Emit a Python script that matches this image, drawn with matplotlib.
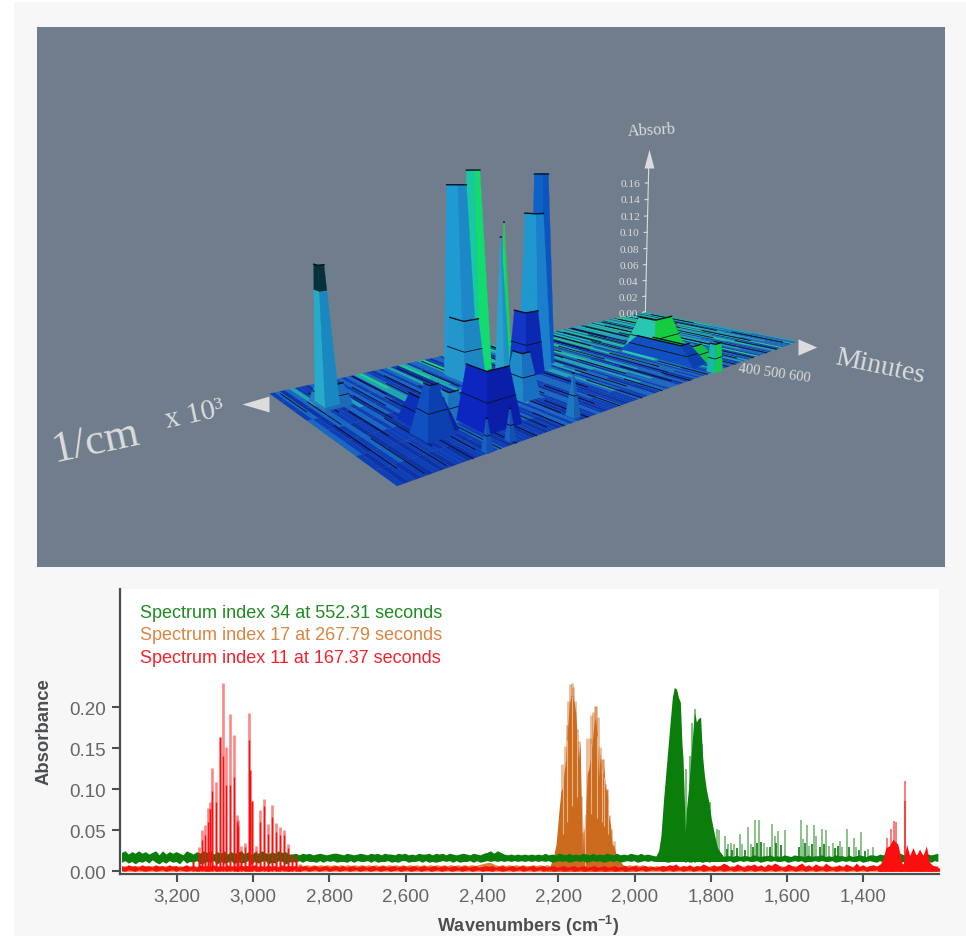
#!/usr/bin/env python3
"""Evolved-gas FTIR figure: 3D absorbance surface above three overlaid spectra."""

import matplotlib
matplotlib.use("Agg")
import matplotlib.pyplot as plt
import numpy as np
from matplotlib.colors import to_rgba
from mpl_toolkits.mplot3d import proj3d
from mpl_toolkits.mplot3d.art3d import Poly3DCollection

W, H = 966, 937
plt.rcParams.update({
    "font.family": "Liberation Sans",
    "mathtext.fontset": "custom",
    "mathtext.rm": "Liberation Sans",
    "mathtext.bf": "Liberation Sans:bold",
    "mathtext.default": "bf",
})

# ---- 3D surface ----
# wavenumber (x 10^3), minutes, absorbance, half widths, side face colours
peak_wave = [3.28, 3.27, 2.63, 2.75, 2.74, 2.59, 2.56, 2.375, 2.45, 2.52, 2.72,
             2.96, 3.15, 3.12, 3.04, 3.10, 3.00, 2.72, 1.87, 1.91, 1.82, 1.93]
peak_time = [153, 158, 159, 195, 205, 239, 229, 242, 267, 285, 419,
             496, 471, 419, 432, 612, 601, 593, 384, 432, 440, 617]
peak_height = [.103, .016, .171, .159, .050, .116, .128, .168, .135, .054, .035,
               .040, .034, .020, .021, .021, .021, .031, .034, .016, .012, .025]
peak_half_wave = [.026, .05, .03, .035, .05, .015, .012, .03, .035, .05, .04,
                  .07, .05, .05, .04, .012, .012, .014, .12, .05, .05, .03]
peak_half_time = [30, 48, 40, 46, 45, 20, 16, 30, 42, 36, 38,
                  55, 35, 70, 26, 9, 9, 14, 60, 130, 120, 12]
peak_top_scale = [.4, .6, .45, .55, .7, .05, .05, .55, .55, .65, .45,
                  .65, .3, .55, .45, .08, .08, .1, .5, .6, .6, .7]
peak_left = ['#26acc8', '#2a7cc0', '#18c8a0', '#1f9ad2', '#2596cc', '#2aa0d0',
             '#14e060', '#0d62c8', '#1f98d0', '#1236c8', '#1e8ac8', '#0e26c0',
             '#1050c0', '#0c30b8', '#2488c4', '#1a60c0', '#1a60c0', '#1c78c0',
             '#28c8b0', '#1050c0', '#14c858', '#18b8a8']
peak_right = ['#1a88c0', '#1f6ab8', '#12dc70', '#1c88c8', '#1f86c4', '#2090c8',
              '#12d858', '#0c54c0', '#1a80cc', '#0c28b0', '#1a70c0', '#0a1ea8',
              '#0c40b0', '#0a24a0', '#1c70bc', '#1450b0', '#1450b0', '#1a60b0',
              '#14cc40', '#0c40b0', '#12c048', '#14c850']
peak_dark_from = [.82, 1, 1, 1, 1, 1, 1, 1, 1, 1, 1, 1, 1, 1, 1, 1, 1, 1, 1, 1, 1, 1]

floor_palette = ['#0a1d6e', '#0c33a8', '#0d40b8', '#1668c4', '#1ba8b4', '#1ccf8c', '#22d870']
floor_rows = [
    "231342213241323231453213234215423345213325412235421345215432541355325420354253514535204452354525435254352564526354525354",
    "231342213241323231453213234215423345213325412235421345315432541355325420354253514535204452354525435254352564526354525354",
    "231332213241323231443213234214423345213325412234421344315432541354325420354243514534204442354525435254342554526354424354",
    "321332213231323221443213224214323335213324412234321344314432441354325320353243414534203442344525425254342554426354424354",
    "321231213231213221432212214213322334212324312233321244314332441344214320343233414433203432344424425244342454426344424344",
    "321231212221212221322212213213322324212323312233321234313332341344214320343233323433202432343424325244332454325344324344",
    "212231212221212212322112213213322323212223312232212234323312342334213320333243323432202332243423325234332354325334324334",
    "212121212122112212321122212212212323211223212223212223223312332333213221323233223423203332243423326233332344226333325334",
]
# short black contour dashes on the floor: wavenumber, from minute, to minute
dash_wave = [3.37, 3.35, 3.33, 3.31, 3.29, 3.26, 3.24, 3.22, 3.20, 3.18, 3.16, 3.14, 3.12, 3.10,
             3.08, 3.06, 3.04, 3.02, 3.00, 2.98, 2.96, 2.94, 2.92, 2.89, 2.87, 2.85, 2.83, 2.80,
             2.78, 2.76, 2.73, 2.71, 2.69, 2.66, 2.64, 2.61, 2.58, 2.56, 2.53, 2.50, 2.47, 2.44,
             2.41, 2.38, 2.35, 2.32, 2.29, 2.26, 2.23, 2.20, 2.17, 2.14, 2.11, 2.08, 2.05, 2.02,
             1.99, 1.96, 1.93, 1.90, 1.87, 1.84, 1.81, 1.78, 1.75, 1.72, 1.69, 1.66, 1.63, 1.60,
             1.57, 1.54, 1.51, 1.48, 1.45, 1.42, 1.39, 1.36, 1.33, 1.30, 1.27, 1.24]
dash_start = [20, 300, 120, 410, 60, 240, 480, 30, 330, 150, 500, 90, 380, 210, 10, 450, 280, 120,
              530, 60, 350, 190, 470, 20, 300, 440, 90, 520, 240, 10, 380, 120, 480, 60, 260, 10,
              400, 150, 520, 30, 300, 100, 440, 10, 360, 200, 500, 60, 290, 10, 420, 150, 530, 40,
              310, 10, 460, 180, 30, 370, 110, 10, 270, 480, 20, 160, 400, 60, 520, 10, 300, 130,
              440, 20, 230, 480, 60, 330, 10, 180, 410, 50]
dash_end = [180, 560, 300, 610, 230, 420, 610, 200, 520, 340, 620, 260, 590, 370, 190, 620, 450, 310,
            620, 250, 530, 380, 620, 210, 430, 600, 260, 620, 410, 170, 560, 280, 620, 230, 440, 210,
            570, 350, 620, 200, 480, 260, 620, 190, 540, 380, 620, 250, 470, 200, 590, 340, 620, 240,
            490, 210, 620, 360, 200, 560, 290, 170, 460, 620, 210, 350, 590, 240, 620, 200, 480, 320,
            620, 190, 410, 620, 250, 510, 210, 360, 590, 240]
absorb_ticks = [0.00, 0.02, 0.04, 0.06, 0.08, 0.10, 0.12, 0.14, 0.16]

# ---- spectrum 34, green: band edges as digits, thousandths above a base ----
green_band_top = ("79586968579495868649758697958695867958486975869785"
                  "564656456545665465456546564655465645465564656465456546546"
                  "79697" "5454545454"
                  "5464546546454654645465464546546454"
                  "3243233423243324323423324233243233423243243324233423243324234324"
                  "43546453645354635456")
green_band_low = ("24130324152031423051324013240312403124031340214302"
                  "324243324243423324243342423342324423342423234342423342423"
                  "43434" "3434343434"
                  "3434234342343423434234342343423434"
                  "3433234343343423343433423434334234343342343423343433423434334234"
                  "32423243234232423243")
green_wave = [1946, 1937, 1931, 1924, 1915, 1906, 1901, 1896, 1890, 1885, 1880, 1876, 1873, 1869,
              1867, 1864, 1858, 1854, 1848, 1843, 1838, 1833, 1827, 1822, 1817, 1812, 1805, 1799,
              1792, 1783, 1775, 1768]
green_abs = [.017, .025, .043, .088, .137, .186, .212, .224, .222, .212, .206, .157, .137, .080,
             .048, .076, .104, .129, .165, .194, .182, .186, .188, .141, .117, .100, .084, .064,
             .048, .029, .023, .019]
green_pale_wave = [1866, 1856, 1849, 1842, 1822, 1803]
green_pale_abs = [.125, .141, .181, .198, .155, .085]
green_stick_wave = [1783, 1779, 1763, 1755, 1748, 1740, 1724, 1718, 1704, 1696, 1685, 1673, 1661, 1652,
                    1640, 1633, 1623, 1605, 1564, 1558, 1548, 1542, 1529, 1524, 1509, 1497, 1490, 1481,
                    1462, 1455, 1443, 1424, 1419, 1406, 1389, 1376]
green_stick_abs = [.052, .050, .043, .033, .035, .033, .046, .033, .054, .033, .062, .062, .035, .029,
                   .058, .043, .049, .050, .062, .039, .057, .031, .056, .043, .052, .050, .031, .035,
                   .037, .029, .051, .041, .029, .048, .027, .029]
green_low_wave = [1757, 1744, 1731, 1711, 1690, 1680, 1668, 1645, 1628, 1615, 1570, 1553, 1535, 1515,
                  1503, 1475, 1468, 1437, 1412, 1397]
green_low_abs = [.027, .026, .028, .026, .030, .034, .036, .030, .034, .032, .030, .034, .033, .030,
                 .033, .028, .031, .030, .026, .025]

# ---- spectrum 17, orange ----
orange_wave = [2231, 2222, 2213, 2206, 2203, 2197, 2193, 2189, 2184, 2180, 2175, 2171, 2167, 2162,
               2158, 2154, 2150, 2147, 2143, 2139, 2137, 2134, 2131, 2127, 2124, 2120, 2116, 2111,
               2107, 2103, 2098, 2094, 2090, 2085, 2081, 2076, 2072, 2068, 2063, 2059, 2054, 2050,
               2046, 2038, 2029, 2016, 2003]
orange_abs = [.002, .006, .017, .033, .048, .080, .098, .102, .125, .137, .178, .204, .214, .214,
              .204, .192, .157, .137, .157, .072, .019, .064, .015, .088, .119, .125, .137, .157,
              .178, .188, .165, .113, .145, .104, .129, .100, .100, .068, .056, .033, .031, .023,
              .019, .012, .007, .003, .000]
orange_pale_wave = [2189, 2182, 2178, 2174, 2169, 2165, 2161, 2156, 2150, 2145, 2140, 2134, 2130, 2124,
                    2118, 2113, 2108, 2104, 2100, 2095, 2090, 2086, 2082, 2077, 2073, 2066, 2061, 2055]
orange_pale_abs = [.131, .153, .178, .208, .228, .230, .224, .208, .174, .159, .092, .048, .052, .163,
                   .163, .190, .194, .202, .202, .188, .151, .137, .137, .106, .100, .068, .052, .037]
orange_slit_wave = [2187, 2177, 2164, 2152, 2129, 2113, 2098, 2086, 2079, 2069]
orange_slit_low = [.045, .060, .080, .090, .004, .070, .065, .060, .055, .045]
orange_slit_top = [.115, .160, .214, .170, .070, .155, .165, .125, .115, .085]
orange_band_top = ("232323232323232323232323232323232323232323232323232"
                   "343434343434343434343434343434343434343434343434343434"
                   "5676" "4343434343" "3434343434343434343434343434343434"
                   "2323232323232323232323232323232323232323232323232323232323232323"
                   "2323232323232323232323")

# ---- spectrum 11, red ----
red_stick_wave = [3158, 3142, 3134, 3125, 3117, 3114, 3107, 3097, 3088, 3079, 3070, 3060, 3050, 3042,
                  3039, 3032, 3022, 3011, 3007, 3004, 2993, 2982, 2972, 2961, 2950, 2940, 2930, 2919,
                  2908, 2897, 2887, 2876]
red_stick_abs = [.013, .029, .050, .056, .077, .085, .126, .109, .164, .230, .151, .192, .166, .069,
                 .063, .031, .035, .193, .124, .086, .031, .075, .088, .058, .081, .059, .054, .050,
                 .033, .021, .019, .009]
red_solid_abs = [.011, .022, .038, .044, .060, .076, .098, .085, .164, .140, .105, .105, .115, .060,
                 .055, .025, .030, .160, .124, .086, .025, .060, .080, .045, .066, .048, .044, .044,
                 .028, .018, .017, .007]
red_band_top = ("53645364536453645346453645364536453645364536453645"
                "4534534534534535345345345345345345345345345345345345345345"
                "45345" "3453453453" "4534534534534534534534534534534534"
                "3454657354635475364586347536574637586347536846375385346375384635"
                "64758695878686756453")
red_band_low = ("10210210120120120210120120120120210210120120120210"
                "1201201201201201201201201201201201201201201201201201201201"
                "10210" "1201201201" "2012012012012012012012012012012012"
                "1201201201201201201201201201201201201201201201201201201201201201"
                "12012012012012012012")
red_end_wave = [1362, 1349, 1341, 1332, 1323, 1310, 1301, 1297, 1287, 1279, 1270, 1262, 1253, 1244,
                1235, 1227, 1213, 1200]
red_end_abs = [.003, .015, .029, .031, .039, .033, .015, .005, .033, .019, .029, .019, .027, .019,
               .031, .011, .005, .004]
red_end_pale_wave = [1338, 1329, 1320, 1314, 1291, 1291]
red_end_pale_abs = [.041, .052, .061, .060, .110, .086]

x_ticks = [3200, 3000, 2800, 2600, 2400, 2200, 2000, 1800, 1600, 1400]
y_ticks = [0.00, 0.05, 0.10, 0.15, 0.20]
legend_labels = ["Spectrum index 34 at 552.31 seconds",
                 "Spectrum index 17 at 267.79 seconds",
                 "Spectrum index 11 at 167.37 seconds"]

GREEN, ORANGE, RED = '#0a7d0a', '#cc6a1e', '#fa0f0f'
LEG_GREEN, LEG_ORANGE, LEG_RED = '#1e8c1e', '#dc8444', '#f5222d'
INK = '#4c4f52'
PALE = '#dcdcdc'
SERIF = 'Liberation Serif'
AZIM = 47.4
ARROW_LEFT = [(-1.7, 0), (0, .5), (0, -.5), (-1.7, 0)]
ARROW_RIGHT = [(1.5, 0), (0, .65), (0, -.65), (1.5, 0)]
ARROW_UP = [(0, 1.7), (.45, 0), (-.45, 0), (0, 1.7)]


def px_rect(left, top, right, bottom):
    return [left / W, 1 - bottom / H, (right - left) / W, (bottom - top) / H]


def band(digits, base):
    # one digit per wavenumber step, thousandths of absorbance above base
    return np.array([(int(c) + base) / 1000 for c in digits])


def peak_faces(ax, i, zorder):
    w, t, h = peak_wave[i], peak_time[i], peak_height[i]
    hw, ht = peak_half_wave[i], peak_half_time[i]
    levels = sorted({0, .5, peak_dark_from[i], 1})
    scale = np.interp(levels, [0, 1], [1, peak_top_scale[i]])
    polys, colors = [], []
    for k in range(len(levels) - 1):
        z0, z1 = levels[k] * h, levels[k + 1] * h
        s0, s1 = scale[k], scale[k + 1]
        dark = levels[k] >= peak_dark_from[i]
        polys.append([(w + hw * s0, t - ht * s0, z0), (w + hw * s0, t + ht * s0, z0),
                      (w + hw * s1, t + ht * s1, z1), (w + hw * s1, t - ht * s1, z1)])
        colors.append('#06303a' if dark else peak_left[i])
        polys.append([(w + hw * s0, t + ht * s0, z0), (w - hw * s0, t + ht * s0, z0),
                      (w - hw * s1, t + ht * s1, z1), (w + hw * s1, t + ht * s1, z1)])
        colors.append('#06303a' if dark else peak_right[i])
    col = Poly3DCollection(polys, facecolors=colors, edgecolors=colors, linewidths=.2)
    col.set_zorder(zorder)
    ax.add_collection3d(col)
    contour = [1, .5] if h < .07 else [1]
    for frac, s in zip(contour, np.interp(contour, [0, 1], [1, peak_top_scale[i]])):
        ax.plot([w + hw * s, w + hw * s, w - hw * s], [t - ht * s, t + ht * s, t + ht * s],
                [h * frac] * 3, color='#04121f', lw=1.0 if frac == 1 else .6, zorder=zorder + .5)


def draw_surface(fig):
    ax = fig.add_axes(px_rect(163, -91, 929, 675), projection='3d', computed_zorder=False)
    ax.set_zorder(2)
    ax.patch.set_alpha(0)
    ax.set_axis_off()
    ax.view_init(elev=9.02, azim=AZIM, roll=0)
    ax.set_proj_type('persp', focal_length=0.15)

    # floor, index 0 of a row sits at the high wavenumber end
    ncol = min(len(r) for r in floor_rows)
    nrow = len(floor_rows)
    wx = np.linspace(3.4, 1.2, ncol + 1)
    ty = np.linspace(0, 620, nrow + 1)
    X, Y = np.meshgrid(wx, ty)
    fc = np.array([[to_rgba(floor_palette[int(c)]) for c in row[:ncol]] for row in floor_rows])
    ax.plot_surface(X, Y, np.zeros_like(X), facecolors=fc, rstride=1, cstride=1,
                    shade=False, linewidth=0, antialiased=True, zorder=1)
    for w, t0, t1 in zip(dash_wave, dash_start, dash_end):
        ax.plot([w, w], [t0, t1], [0, 0], color='#020814', lw=.7, alpha=.85, zorder=1.5)

    # back to front along the view direction
    az = np.deg2rad(AZIM)
    near = [(peak_wave[i] - 1.2) / 2.2 * 2.81 * np.cos(az)
            + peak_time[i] / 620 * 1.245 * np.sin(az) for i in range(len(peak_wave))]
    for rank, i in enumerate(np.argsort(near, kind='stable')):
        peak_faces(ax, i, 2 + rank)

    # absorbance axis standing at the far corner
    ax.plot([1.2, 1.2], [0, 0], [0, .178], color=PALE, lw=.8, zorder=40)
    ax.plot([1.2], [0], [.178], marker=ARROW_UP, ms=27, color=PALE, mec='none', zorder=40)
    for v in absorb_ticks:
        ax.plot([1.2, 1.228], [0, 0], [v, v], color=PALE, lw=.8, zorder=40)
    ax.plot([3.405], [0], [-.008], marker=ARROW_LEFT, ms=39, color=PALE, mec='none', zorder=40)
    ax.plot([1.2], [620], [-.006], marker=ARROW_RIGHT, ms=27, color=PALE, mec='none', zorder=40)

    ax.set_xlim(1.188, 3.388)
    ax.set_ylim(-69, 551)
    ax.set_zlim(-.0973, .2427)
    ax.set_box_aspect((1.2043, .5336, .9040), zoom=.8385)

    # tick texts sit on the projected axis positions
    proj = ax.get_proj()
    for v in absorb_ticks:
        sx, sy, _ = proj3d.proj_transform(1.27, 0, v, proj)
        ax.text2D(sx, sy, f"{v:.2f}", family=SERIF, fontsize=8.2, color=PALE,
                  ha='right', va='center', transform=ax.transData, zorder=40)
    sx, sy, _ = proj3d.proj_transform(1.18, 0, .224, proj)
    ax.text2D(sx, sy, "Absorb", family=SERIF, fontsize=11.8, color=PALE,
              ha='center', va='center', rotation=3, transform=ax.transData, zorder=40)
    return ax


def draw_spectra(fig):
    ax = fig.add_axes(px_rect(120, 590, 939, 875))
    ax.set_zorder(2)
    ax.set_facecolor('white')

    def fill_band(top, low, top_base, low_base, color, zorder):
        grid = np.linspace(3345, 1205, min(len(top), len(low)))
        ax.fill_between(grid, band(low[:len(grid)], low_base), band(top[:len(grid)], top_base),
                        color=color, lw=0, zorder=zorder)

    fill_band(orange_band_top, "0" * len(orange_band_top), 4, 0, '#d9843c', 2)
    ax.vlines(orange_pale_wave, 0, orange_pale_abs, color=ORANGE, lw=2, alpha=.45, zorder=3)
    ax.fill_between(orange_wave, 0, orange_abs, color=ORANGE, lw=0, zorder=4)
    ax.vlines(orange_slit_wave, orange_slit_low, orange_slit_top, color='#eeb98e', lw=.8,
              alpha=.9, zorder=4.5)

    fill_band(green_band_top, green_band_low, 16, 9, GREEN, 5)
    ax.vlines(green_pale_wave, 0.01, green_pale_abs, color=GREEN, lw=1.5, alpha=.5, zorder=5)
    ax.fill_between(green_wave, 0.012, green_abs, color=GREEN, lw=0, zorder=6)
    ax.vlines(green_stick_wave, 0.015, green_stick_abs, color=GREEN, lw=1.2, alpha=.55, zorder=6)
    ax.vlines(green_low_wave, 0.015, green_low_abs, color=GREEN, lw=1.2, zorder=6)

    fill_band(red_band_top, red_band_low, 2, 0, RED, 7)
    ax.vlines(red_stick_wave, 0, red_stick_abs, color=RED, lw=1.9, alpha=.5, zorder=8)
    ax.vlines(red_stick_wave, 0, red_solid_abs, color=RED, lw=1, zorder=8)
    ax.vlines(red_end_pale_wave, 0, red_end_pale_abs, color=RED, lw=1.4, alpha=.55, zorder=8)
    ax.fill_between(red_end_wave, 0, red_end_abs, color=RED, lw=0, zorder=8)

    ax.set_xlim(3349, 1202)
    ax.set_ylim(-.0033, .344)
    ax.set_xticks(x_ticks, [f"{v:,}" for v in x_ticks])
    ax.set_yticks(y_ticks, [f"{v:.2f}" for v in y_ticks])
    ax.tick_params(length=6, width=1.5, color=INK, labelcolor='#666666', labelsize=13.5, pad=4)
    for side in ('top', 'right'):
        ax.spines[side].set_visible(False)
    for side in ('left', 'bottom'):
        ax.spines[side].set_color(INK)
        ax.spines[side].set_linewidth(1.6)
    ax.set_ylabel("Absorbance", fontsize=13.3, fontweight='bold', color=INK)
    ax.yaxis.set_label_coords((53 - 120) / 819, (875 - 732) / 285)
    ax.set_xlabel(r"Wavenumbers (cm$^{-1}$)", fontsize=13, fontweight='bold', color=INK)
    ax.xaxis.set_label_coords((528 - 120) / 819, -.137)

    for label, color, y in zip(legend_labels, (LEG_GREEN, LEG_ORANGE, LEG_RED), (.916, .839, .761)):
        ax.text(.0244, y, label, transform=ax.transAxes, color=color, fontsize=13,
                ha='left', va='center')


def main():
    fig = plt.figure(figsize=(W / 100, H / 100), dpi=100, facecolor='white')

    # page panels and the captions lying flat on the grey picture
    bg = fig.add_axes([0, 0, 1, 1], zorder=0)
    bg.set_xlim(0, W)
    bg.set_ylim(H, 0)
    bg.axis('off')
    bg.axhspan(3, H, xmin=14 / W, xmax=1, color='#f7f7f7', lw=0)
    bg.axhspan(28, 568, xmin=37 / W, xmax=945 / W, color='#6f7d8c', lw=0)
    bg.text(95, 442, "1/cm", family=SERIF, fontsize=32, color=PALE, rotation=12,
            ha='center', va='center')
    bg.text(195, 415, "x 10³", family=SERIF, fontsize=21, color=PALE, rotation=12,
            ha='center', va='center')
    bg.text(880, 367, "Minutes", family=SERIF, fontsize=20, color=PALE, rotation=-12,
            ha='center', va='center')
    bg.text(810, 379, "400 500 600", family=SERIF, fontsize=10.5, color=PALE, rotation=-8,
            ha='right', va='center', rotation_mode='anchor')

    draw_surface(fig)
    draw_spectra(fig)
    fig.savefig('out.png', dpi=100, facecolor=fig.get_facecolor())


if __name__ == '__main__':
    main()
